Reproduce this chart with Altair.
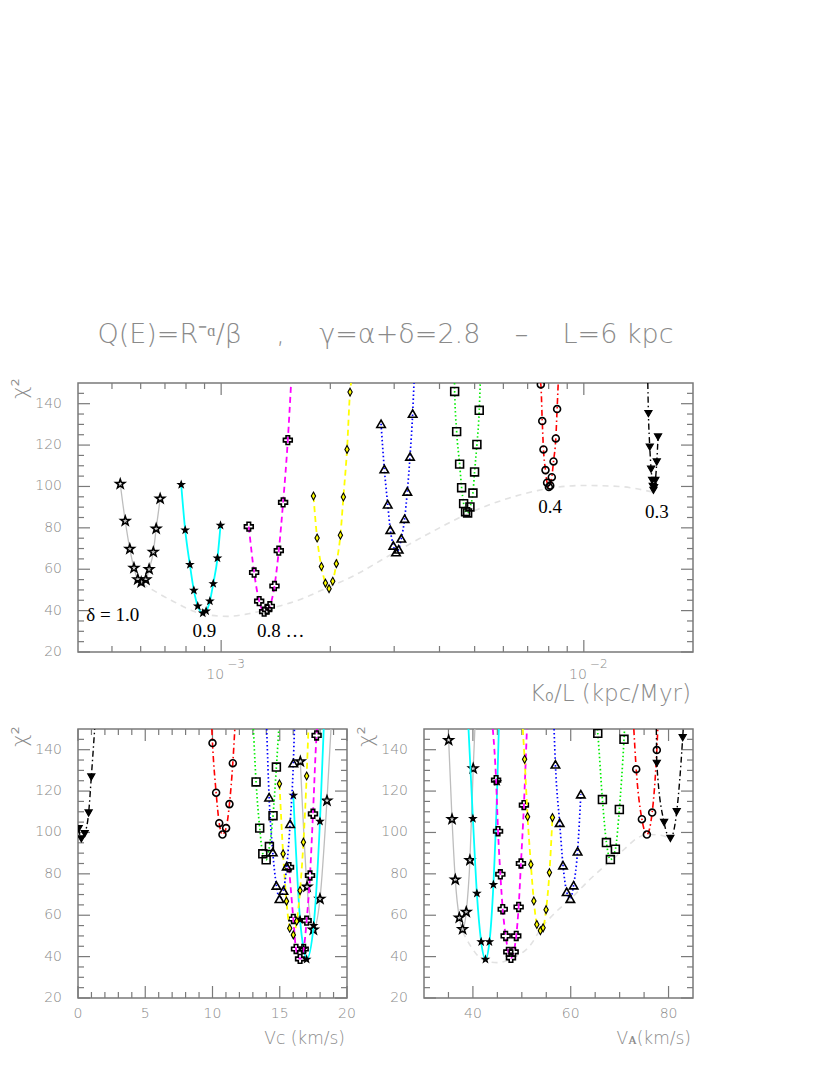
import altair as alt
import pandas as pd

DELTAS = ["1.0", "0.9", "0.8", "0.7", "0.6", "0.5", "0.4", "0.3"]
CHI_TOP = 150

# ---------------- top panel : K0/L (kpc/Myr) ----------------
k_x = {
    "1.0": [5.27e-4, 5.44e-4, 5.60e-4, 5.75e-4, 5.89e-4, 6.02e-4, 6.20e-4, 6.33e-4, 6.50e-4, 6.62e-4, 6.79e-4],
    "0.9": [7.76e-4, 7.96e-4, 8.20e-4, 8.41e-4, 8.62e-4, 8.90e-4, 9.09e-4, 9.31e-4, 9.51e-4, 9.77e-4, 9.96e-4],
    "0.8": [1.192e-3, 1.233e-3, 1.273e-3, 1.314e-3, 1.339e-3, 1.362e-3, 1.403e-3, 1.442e-3, 1.482e-3, 1.527e-3],
    "0.7": [1.797e-3, 1.839e-3, 1.890e-3, 1.939e-3, 1.984e-3, 2.031e-3, 2.078e-3, 2.132e-3, 2.173e-3, 2.224e-3, 2.267e-3],
    "0.6": [2.760e-3, 2.818e-3, 2.879e-3, 2.927e-3, 2.984e-3, 3.035e-3, 3.087e-3, 3.139e-3, 3.206e-3, 3.261e-3, 3.317e-3, 3.373e-3],
    "0.5": [4.404e-3, 4.460e-3, 4.545e-3, 4.603e-3, 4.662e-3, 4.721e-3, 4.782e-3, 4.853e-3, 4.946e-3, 4.998e-3, 5.072e-3, 5.148e-3],
    "0.4": [7.61e-3, 7.68e-3, 7.74e-3, 7.84e-3, 7.92e-3, 8.01e-3, 8.08e-3, 8.16e-3, 8.25e-3, 8.37e-3, 8.44e-3],
    "0.3": [1.507e-2, 1.520e-2, 1.533e-2, 1.543e-2, 1.549e-2, 1.556e-2, 1.562e-2, 1.575e-2, 1.589e-2, 1.602e-2],
}
k_chi = {
    "1.0": [101.2, 83.3, 69.8, 60.6, 55.1, 53.7, 55.0, 60.0, 68.3, 79.6, 94.1],
    "0.9": [100.9, 78.9, 62.2, 49.8, 42.2, 38.8, 39.8, 44.6, 53.0, 65.4, 81.2],
    "0.8": [80.6, 58.4, 44.6, 39.5, 40.5, 42.1, 51.9, 69.0, 92.3, 122.4],
    "0.7": [95.4, 75.1, 61.3, 53.3, 50.6, 54.2, 62.7, 76.4, 94.9, 117.9, 145.6],
    "0.6": [130.3, 108.4, 91.4, 79.1, 71.5, 68.3, 69.6, 74.9, 84.4, 97.6, 114.5, 135.2],
    "0.5": [145.9, 126.5, 110.8, 99.4, 91.7, 87.8, 87.2, 90.1, 96.8, 107.0, 120.3, 136.8],
    "0.4": [149.3, 131.6, 117.9, 107.9, 101.8, 99.7, 100.4, 104.5, 112.1, 123.2, 137.4],
    "0.3": [135.2, 119.0, 108.3, 102.9, 100.0, 98.1, 99.4, 102.9, 111.8, 123.9],
}
# where the fitted curves leave the frame at chi2 = 150
k_exit_left = {"0.5": 4.40e-3, "0.4": 7.58e-3, "0.3": 1.501e-2}
k_exit_right = {"0.8": 1.559e-3, "0.7": 2.281e-3, "0.6": 3.402e-3, "0.5": 5.181e-3, "0.4": 8.50e-3}

env_k = [6.06e-4, 7.28e-4, 8.8e-4, 1.04e-3, 1.19e-3, 1.4e-3, 1.66e-3, 1.89e-3, 2.3e-3, 3.0e-3,
         4.0e-3, 4.8e-3, 6.0e-3, 7.45e-3, 1.0e-2, 1.25e-2, 1.55e-2]
env_k_chi = [53.0, 45.0, 38.6, 37.2, 38.5, 41.5, 45.5, 49.8, 56.5, 68.0,
             80.0, 87.0, 93.5, 98.0, 100.5, 100.0, 97.3]

lab_text = ["δ = 1.0", "0.8 …"]
lab_k = [4.25e-4, 1.256e-3]
lab_chi = [37.7, 30.0]
clab_text = ["0.9", "0.4", "0.3"]
clab_k = [8.99e-4, 8.08e-3, 1.589e-2]
clab_chi = [30.0, 90.0, 87.8]

# ---------------- bottom-left : Vc (km/s) ----------------
vc_x = {
    "1.0": [16.53, 17.03, 17.5, 17.99, 18.51],
    "0.9": [16.01, 16.51, 16.78, 17.0, 17.52, 17.99],
    "0.8": [15.69, 16.01, 16.21, 16.51, 16.78, 17.0, 17.25, 17.47, 17.74],
    "0.7": [14.98, 15.25, 15.50, 15.74, 16.01, 16.26, 16.51, 16.76, 17.0],
    "0.6": [14.21, 14.48, 14.75, 14.98, 15.27, 15.52, 15.77, 16.01],
    "0.5": [13.24, 13.51, 13.74, 13.99, 14.23, 14.50, 14.75],
    "0.4": [10.0, 10.27, 10.50, 10.74, 11.01, 11.26, 11.51],
    "0.3": [0.05, 0.25, 0.5, 0.79, 0.99],
}
vc_chi = {
    "1.0": [134.3, 73.8, 53.0, 67.9, 115.4],
    "0.9": [117.9, 57.9, 43.7, 38.7, 55.0, 105.4],
    "0.8": [83.2, 58.2, 43.7, 38.9, 43.7, 57.4, 79.2, 109.0, 146.9],
    "0.7": [123.5, 89.7, 66.8, 53.7, 50.5, 57.1, 71.9, 95.3, 127.3],
    "0.6": [117.0, 90.5, 74.4, 67.9, 71.9, 83.7, 104.2, 133.5],
    "0.5": [124.4, 102.1, 89.7, 86.8, 93.2, 108.1, 131.6],
    "0.4": [143.2, 119.2, 104.5, 99.0, 102.1, 113.7, 133.5],
    "0.3": [101.8, 96.9, 99.4, 109.4, 126.8],
}
vc_exit_left = {"0.6": 14.03, "0.5": 13.04, "0.4": 9.95}
vc_exit_right = {"1.0": 18.81, "0.9": 18.27, "0.8": 17.78, "0.7": 17.13, "0.6": 16.09,
                 "0.5": 14.93, "0.4": 11.66, "0.3": 1.24}

# ---------------- bottom-right : VA (km/s) ----------------
va_x = {
    "1.0": [35.04, 35.73, 36.40, 37.22, 37.89, 38.64, 39.39, 40.06],
    "0.9": [40.0, 40.81, 41.69, 42.56, 43.38, 44.19, 45.0],
    "0.8": [44.74, 45.14, 45.61, 46.1, 46.7, 47.24, 47.78, 48.33, 48.86, 49.35, 49.82, 50.43],
    "0.7": [50.57, 51.18, 51.85, 52.46, 53.07, 53.8, 54.35, 54.96, 55.65, 56.26],
    "0.6": [56.87, 57.74, 58.42, 59.17, 59.92, 60.59, 61.4, 62.07],
    "0.5": [65.53, 66.48, 67.3, 68.11, 69.13, 69.94, 70.89],
    "0.4": [73.39, 74.55, 75.57, 76.65, 77.6],
    "0.3": [77.6, 79.09, 80.37, 81.67, 82.89],
}
va_chi = {
    "1.0": [144.6, 106.4, 77.2, 58.8, 53.2, 61.6, 86.6, 130.9],
    "0.9": [106.7, 70.6, 47.1, 38.7, 47.1, 74.8, 124.5],
    "0.8": [125.3, 100.6, 79.8, 62.9, 50.0, 42.3, 39.4, 42.3, 50.0, 64.0, 85.0, 113.2],
    "0.7": [135.4, 107.6, 84.5, 66.9, 55.5, 52.5, 53.9, 62.7, 80.6, 107.2],
    "0.6": [132.9, 104.7, 84.2, 71.3, 68.0, 74.5, 90.9, 118.5],
    "0.5": [147.9, 115.9, 95.1, 86.9, 91.9, 111.1, 145.0],
    "0.4": [130.6, 106.4, 99.0, 109.6, 139.8],
    "0.3": [133.4, 104.8, 97.1, 110.0, 145.8],
}
va_exit_left = {"0.9": 39.1, "0.8": 44.07, "0.7": 50.2, "0.6": 56.59, "0.5": 65.45, "0.4": 72.9, "0.3": 77.5}
va_exit_right = {"1.0": 40.4, "0.9": 45.3, "0.8": 51.04, "0.5": 71.0, "0.4": 77.8, "0.3": 83.0}

env_va = [37.9, 39.65, 42.0, 45.0, 48.3, 51.85, 53.9, 56.5, 60.0, 64.0, 68.1, 71.0, 73.5, 75.6, 78.3, 80.4]
env_va_chi = [52.0, 44.7, 38.5, 37.1, 39.5, 45.8, 53.5, 60.5, 68.0, 77.5, 86.1, 92.0, 97.1, 99.0, 98.7, 97.0]

# ticks / labels
chi_major = [20, 40, 60, 80, 100, 120, 140]
chi_minor = [25, 30, 35, 45, 50, 55, 65, 70, 75, 85, 90, 95, 105, 110, 115, 125, 130, 135, 145]
k_major = [1e-3, 1e-2]
k_minor = [5e-4, 6e-4, 7e-4, 8e-4, 9e-4, 2e-3, 3e-3, 4e-3, 5e-3, 6e-3, 7e-3, 8e-3, 9e-3]
k_lab_base = ["10", "10"]
k_lab_exp = ["−3", "−2"]
vc_major = [0, 5, 10, 15, 20]
vc_minor = [1, 2, 3, 4, 6, 7, 8, 9, 11, 12, 13, 14, 16, 17, 18, 19]
va_major = [40, 60, 80]
va_minor = [35, 45, 50, 55, 65, 70, 75]

NB = "\u00a0" * 4
TITLE = "Q(E)=R⁻ᵅ/β" + NB + "," + NB + "γ=α+δ=2.8" + NB + "–" + NB + "L=6 kpc"
Y_TITLE = "χ²"
K_TITLE = "K₀/L (kpc/Myr)"
VC_TITLE = "Vᴄ (km/s)"
VA_TITLE = "Vᴀ(km/s)"

# ---------------- styling ----------------
GRAY = "#8a8a8a"
FRAME = "#7a7a7a"
SANS = "DejaVu Sans"
LW = 200
STAR = ("M0,-1L0.235,-0.324L0.951,-0.309L0.38,0.124L0.588,0.809L0,0.4"
        "L-0.588,0.809L-0.38,0.124L-0.951,-0.309L-0.235,-0.324Z")
DIAM = "M0,-1L0.55,0L0,1L-0.55,0Z"
STYLE = {
    "1.0": dict(lc="#bdbdbd", dash=None, lw=1.3, shape=STAR, size=90, fill=None),
    "0.9": dict(lc="#00ffff", dash=None, lw=1.8, shape=STAR, size=48, fill="black"),
    "0.8": dict(lc="#ff00ff", dash=[6, 4], lw=1.8, shape="cross", size=78, fill=None),
    "0.7": dict(lc="#ffff00", dash=[6, 4], lw=1.8, shape=DIAM, size=62, fill="#ffff00"),
    "0.6": dict(lc="#0000ff", dash=[1.5, 2.5], lw=1.7, shape="triangle-up", size=72, fill=None),
    "0.5": dict(lc="#00ee00", dash=[1.5, 2.5], lw=1.7, shape="square", size=62, fill=None),
    "0.4": dict(lc="#ff0000", dash=[6, 3, 1.5, 3], lw=1.6, shape="circle", size=48, fill=None),
    "0.3": dict(lc="#000000", dash=[6, 3, 1.5, 3], lw=1.4, shape="triangle-down", size=52, fill="black"),
}


def tick_layers(xmaj, xmin, ymaj, ymin, xs, ys, W, H):
    out = []
    for vals, L in ((ymaj, 12), (ymin, 6)):
        df = pd.DataFrame({"v": vals})
        b = alt.Chart(df).mark_rule(color=FRAME, strokeWidth=1.2)
        y = alt.Y("v:Q", scale=ys, axis=None)
        out.append(b.encode(y=y, x=alt.value(0), x2=alt.value(L)))
        out.append(b.encode(y=y, x=alt.value(W - L), x2=alt.value(W)))
    for vals, L in ((xmaj, 12), (xmin, 6)):
        df = pd.DataFrame({"v": vals})
        b = alt.Chart(df).mark_rule(color=FRAME, strokeWidth=1.2)
        x = alt.X("v:Q", scale=xs, axis=None)
        out.append(b.encode(x=x, y=alt.value(H), y2=alt.value(H - L)))
        out.append(b.encode(x=x, y=alt.value(0), y2=alt.value(L)))
    return out


def label_layers(xs, ys, W, H, xvals, xtitle, xtitle_size, ytitle_y, xnumeric=True):
    out = []
    ydf = pd.DataFrame({"v": chi_major})
    out.append(alt.Chart(ydf).mark_text(font=SANS, fontSize=14, fontWeight=LW, color=GRAY,
                                        align="right", baseline="middle").encode(
        y=alt.Y("v:Q", scale=ys, axis=None), x=alt.value(-16),
        text=alt.Text("v:Q", format="d")))
    if xnumeric:
        xdf = pd.DataFrame({"v": xvals})
        out.append(alt.Chart(xdf).mark_text(font=SANS, fontSize=14, fontWeight=LW, color=GRAY,
                                            align="center", baseline="alphabetic").encode(
            x=alt.X("v:Q", scale=xs, axis=None), y=alt.value(H + 19.5),
            text=alt.Text("v:Q", format="d")))
    tdf = pd.DataFrame({"t": [xtitle]})
    out.append(alt.Chart(tdf).mark_text(font=SANS, fontSize=xtitle_size, fontWeight=LW, color=GRAY,
                                        align="right", baseline="alphabetic").encode(
        x=alt.value(W - 2), y=alt.value(H + (49 if xtitle_size > 20 else 46)), text="t:N"))
    ydf2 = pd.DataFrame({"t": [Y_TITLE]})
    out.append(alt.Chart(ydf2).mark_text(font=SANS, fontSize=21, fontWeight=LW, color=GRAY,
                                         align="right", baseline="middle", angle=270).encode(
        x=alt.value(-57), y=alt.value(ytitle_y), text="t:N"))
    return out


def series_layers(xd, yd, exl, exr, xs, ys):
    out = []
    for d in DELTAS:
        st = STYLE[d]
        px, py = list(xd[d]), list(yd[d])
        lx, ly = list(px), list(py)
        if d in exl:
            lx = [exl[d]] + lx
            ly = [CHI_TOP] + ly
        if d in exr:
            lx = lx + [exr[d]]
            ly = ly + [CHI_TOP]
        ldf = pd.DataFrame({"x": lx, "chi": ly})
        lkw = dict(color=st["lc"], strokeWidth=st["lw"], interpolate="monotone", clip=True)
        if st["dash"]:
            lkw["strokeDash"] = st["dash"]
        out.append(alt.Chart(ldf).mark_line(**lkw).encode(
            x=alt.X("x:Q", scale=xs, axis=None), y=alt.Y("chi:Q", scale=ys, axis=None)))
        pdf = pd.DataFrame({"x": px, "chi": py})
        if st["fill"]:
            pm = alt.Chart(pdf).mark_point(shape=st["shape"], size=st["size"], filled=True,
                                           fill=st["fill"], stroke="black", strokeWidth=1.1,
                                           opacity=1, clip=True)
        else:
            pm = alt.Chart(pdf).mark_point(shape=st["shape"], size=st["size"], filled=False,
                                           color="black", strokeWidth=1.6, opacity=1, clip=True)
        out.append(pm.encode(x=alt.X("x:Q", scale=xs, axis=None),
                             y=alt.Y("chi:Q", scale=ys, axis=None)))
    return out


yscale = alt.Scale(domain=[20, 150], nice=False, zero=False)

# ---- top panel ----
WT, HT = 615, 269
kscale = alt.Scale(type="log", domain=[4.03e-4, 2.0e-2], nice=False)
env1 = alt.Chart(pd.DataFrame({"x": env_k, "chi": env_k_chi})).mark_line(
    color="#e2e2e2", strokeDash=[6, 5], strokeWidth=1.6, interpolate="monotone").encode(
    x=alt.X("x:Q", scale=kscale, axis=None), y=alt.Y("chi:Q", scale=yscale, axis=None))
txt_l = alt.Chart(pd.DataFrame({"x": lab_k, "chi": lab_chi, "t": lab_text})).mark_text(
    font="Liberation Serif", fontSize=19, color="black", align="left", baseline="middle").encode(
    x=alt.X("x:Q", scale=kscale, axis=None), y=alt.Y("chi:Q", scale=yscale, axis=None), text="t:N")
txt_c = alt.Chart(pd.DataFrame({"x": clab_k, "chi": clab_chi, "t": clab_text})).mark_text(
    font="Liberation Serif", fontSize=19, color="black", align="center", baseline="middle").encode(
    x=alt.X("x:Q", scale=kscale, axis=None), y=alt.Y("chi:Q", scale=yscale, axis=None), text="t:N")
kl = pd.DataFrame({"x": k_major, "b": k_lab_base, "e": k_lab_exp})
klab_b = alt.Chart(kl).mark_text(font=SANS, fontSize=14, fontWeight=LW, color=GRAY, align="right",
                                 dx=3, baseline="alphabetic").encode(
    x=alt.X("x:Q", scale=kscale, axis=None), y=alt.value(HT + 26.5), text="b:N")
klab_e = alt.Chart(kl).mark_text(font=SANS, fontSize=12, fontWeight=LW, color=GRAY, align="left",
                                 dx=6, baseline="alphabetic").encode(
    x=alt.X("x:Q", scale=kscale, axis=None), y=alt.value(HT + 16), text="e:N")

top = alt.layer(
    *tick_layers(k_major, k_minor, chi_major, chi_minor, kscale, yscale, WT, HT),
    *label_layers(kscale, yscale, WT, HT, k_major, K_TITLE, 23, -5, xnumeric=False),
    env1,
    *series_layers(k_x, k_chi, k_exit_left, k_exit_right, kscale, yscale),
    txt_l, txt_c, klab_b, klab_e,
).properties(width=WT, height=HT,
             title=alt.Title(TITLE, fontSize=27, color=GRAY, font=SANS, fontWeight=LW,
                             anchor="middle", offset=29.5))

# ---- bottom-left ----
WB, HB = 269, 269
vcscale = alt.Scale(domain=[0, 20], nice=False, zero=False)
bl = alt.layer(
    *tick_layers(vc_major, vc_minor, chi_major, chi_minor, vcscale, yscale, WB, HB),
    *label_layers(vcscale, yscale, WB, HB, vc_major, VC_TITLE, 17, -3),
    *series_layers(vc_x, vc_chi, vc_exit_left, vc_exit_right, vcscale, yscale),
).properties(width=WB, height=HB)

# ---- bottom-right ----
vascale = alt.Scale(domain=[30, 85], nice=False, zero=False)
env2 = alt.Chart(pd.DataFrame({"x": env_va, "chi": env_va_chi})).mark_line(
    color="#e2e2e2", strokeDash=[6, 5], strokeWidth=1.6, interpolate="monotone").encode(
    x=alt.X("x:Q", scale=vascale, axis=None), y=alt.Y("chi:Q", scale=yscale, axis=None))
br = alt.layer(
    *tick_layers(va_major, va_minor, chi_major, chi_minor, vascale, yscale, WB, HB),
    *label_layers(vascale, yscale, WB, HB, va_major, VA_TITLE, 17, -3),
    env2,
    *series_layers(va_x, va_chi, va_exit_left, va_exit_right, vascale, yscale),
).properties(width=WB, height=HB)

chart = alt.vconcat(
    top,
    alt.hconcat(bl, br, spacing=77, bounds="flush"),
    spacing=77, bounds="flush",
).properties(
    padding={"left": 1, "top": 311, "right": 5, "bottom": 5}
).configure_view(
    stroke=FRAME, strokeWidth=1.5
)

chart.save("out.html", embed_options={"renderer": "svg", "actions": False})
